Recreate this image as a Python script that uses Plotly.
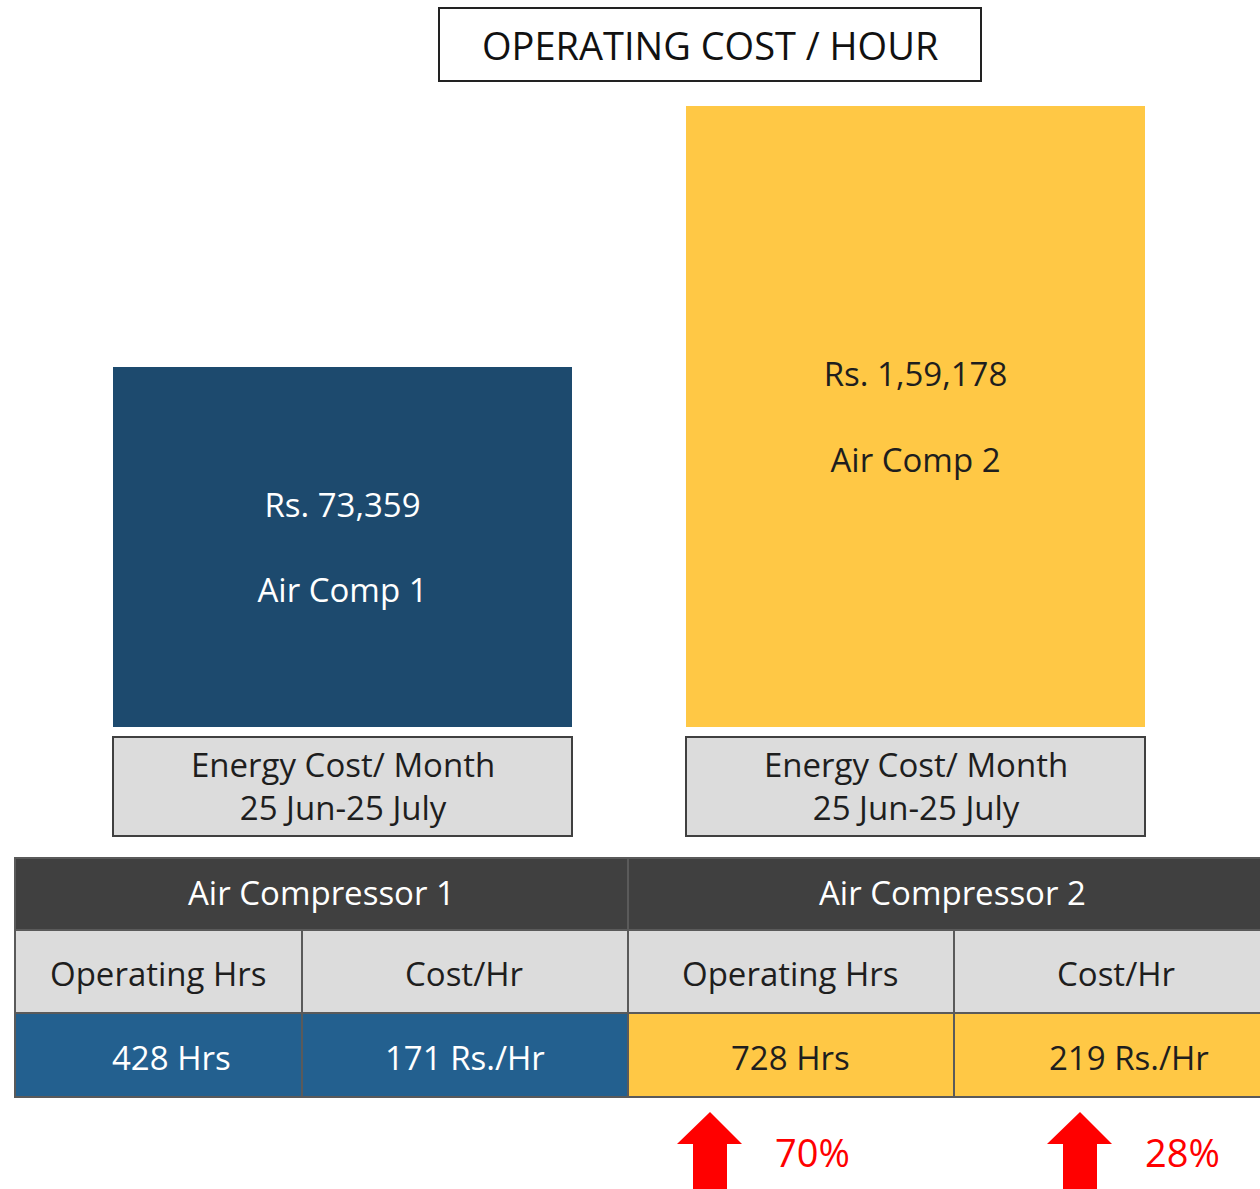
import plotly.graph_objects as go

# ---------------- data ----------------
compressors = ["Air Comp 1", "Air Comp 2"]
table_headers = ["Air Compressor 1", "Air Compressor 2"]
energy_cost = [73359, 159178]
cost_labels = ["Rs. 73,359", "Rs. 1,59,178"]
period_label = "Energy Cost/ Month<br>25 Jun-25 July"
sub_headers = ["Operating Hrs", "Cost/Hr"]
operating_hrs = [428, 728]
cost_per_hr = [171, 219]
increase_pct = [70, 28]
title_text = "OPERATING COST / HOUR"

# ---------------- styling / layout constants ----------------
W, H = 1260, 1189
FONT = "Open Sans"
DARK = "#1e1e1e"
BAR_COLORS = ["#1D4A6E", "#FFC845"]
BAR_TEXT_COLORS = ["white", DARK]
CELL_COLORS = ["#23608F", "#FFC845"]
CELL_TEXT_COLORS = ["white", DARK]
HEADER_BG = "#404040"
GRAY = "#DCDCDC"
GRID = "#5a5a5a"
RED = "#FF0000"
BAR_BASE = -45000  # axis floor used for the bar baseline


def px(x):
    return x / W


def py(y):
    return 1 - y / H


fig = go.Figure()

fig.add_trace(go.Bar(
    x=compressors,
    y=[v - BAR_BASE for v in energy_cost],
    base=BAR_BASE,
    width=0.801,
    marker=dict(color=BAR_COLORS, line=dict(width=0)),
    text=[f"{c}<br><br>{n}" for c, n in zip(cost_labels, compressors)],
    textposition="inside",
    insidetextanchor="middle",
    textangle=0,
    constraintext="none",
    textfont=dict(family=FONT, size=33, color=BAR_TEXT_COLORS),
    hoverinfo="skip",
    showlegend=False,
))

shapes = []
annotations = []

# title box
shapes.append(dict(type="rect", xref="paper", yref="paper",
                   x0=px(439), x1=px(981), y0=py(81), y1=py(8),
                   line=dict(color="#222222", width=2), fillcolor="white"))
annotations.append(dict(x=px(710), y=py(45), xref="paper", yref="paper",
                        text=title_text, showarrow=False,
                        font=dict(family=FONT, size=38, color="#111111"),
                        xanchor="center", yanchor="middle"))

# label boxes under the bars
for x0, x1 in [(113, 572), (686, 1145)]:
    shapes.append(dict(type="rect", xref="paper", yref="paper",
                       x0=px(x0), x1=px(x1), y0=py(836), y1=py(737),
                       line=dict(color="#404040", width=2), fillcolor=GRAY))
    annotations.append(dict(x=px((x0 + x1) / 2), y=py(786), xref="paper", yref="paper",
                            text=period_label, showarrow=False,
                            font=dict(family=FONT, size=33, color=DARK),
                            xanchor="center", yanchor="middle"))

# table
col_edges = [15, 302, 628, 954, 1290]
row_edges = [858, 930, 1013, 1097]
# header row
for i, (x0, x1) in enumerate([(15, 628), (628, 1290)]):
    shapes.append(dict(type="rect", xref="paper", yref="paper",
                       x0=px(x0), x1=px(x1), y0=py(row_edges[1]), y1=py(row_edges[0]),
                       line=dict(color=GRID, width=2), fillcolor=HEADER_BG))
    annotations.append(dict(x=px([321, 952][i]), y=py(892), xref="paper", yref="paper",
                            text=table_headers[i], showarrow=False,
                            font=dict(family=FONT, size=33, color="white"),
                            xanchor="center", yanchor="middle"))
# sub-header row and values row
value_centers = [171, 465, 790, 1129]
sub_centers = [158, 464, 790, 1116]
for c in range(4):
    comp = c // 2
    x0, x1 = col_edges[c], col_edges[c + 1]
    shapes.append(dict(type="rect", xref="paper", yref="paper",
                       x0=px(x0), x1=px(x1), y0=py(row_edges[2]), y1=py(row_edges[1]),
                       line=dict(color=GRID, width=2), fillcolor=GRAY))
    annotations.append(dict(x=px(sub_centers[c]), y=py(973), xref="paper", yref="paper",
                            text=sub_headers[c % 2], showarrow=False,
                            font=dict(family=FONT, size=33, color=DARK),
                            xanchor="center", yanchor="middle"))
    shapes.append(dict(type="rect", xref="paper", yref="paper",
                       x0=px(x0), x1=px(x1), y0=py(row_edges[3]), y1=py(row_edges[2]),
                       line=dict(color=GRID, width=2), fillcolor=CELL_COLORS[comp]))
    val = f"{operating_hrs[comp]} Hrs" if c % 2 == 0 else f"{cost_per_hr[comp]} Rs./Hr"
    annotations.append(dict(x=px(value_centers[c]), y=py(1057), xref="paper", yref="paper",
                            text=val, showarrow=False,
                            font=dict(family=FONT, size=33, color=CELL_TEXT_COLORS[comp]),
                            xanchor="center", yanchor="middle"))

# red arrows with percentage increase
for k, pct in enumerate(increase_pct):
    off = 370 * k
    tipx = 710 + off
    pts = [(tipx, 1112), (742 + off, 1144), (727 + off, 1144), (727 + off, 1195),
           (693 + off, 1195), (693 + off, 1144), (677 + off, 1144)]
    path = "M " + " L ".join(f"{px(x)},{py(y)}" for x, y in pts) + " Z"
    shapes.append(dict(type="path", xref="paper", yref="paper", path=path,
                       fillcolor=RED, line=dict(width=0)))
    annotations.append(dict(x=px(812 + off), y=py(1152), xref="paper", yref="paper",
                            text=f"{pct}%", showarrow=False,
                            font=dict(family=FONT, size=38, color=RED),
                            xanchor="center", yanchor="middle"))

fig.update_layout(
    width=W, height=H,
    margin=dict(l=0, r=0, t=0, b=0),
    paper_bgcolor="white", plot_bgcolor="white",
    shapes=shapes, annotations=annotations,
    xaxis=dict(domain=[0, 1], range=[-0.59773, 1.60122], visible=False, fixedrange=True),
    yaxis=dict(domain=[py(727), py(106)], range=[BAR_BASE, max(energy_cost)],
               visible=False, fixedrange=True),
    bargap=0,
)

fig.write_html(
    "out.html",
    config={"displayModeBar": False},
    post_script="document.body.style.margin='0';document.body.style.overflow='hidden';",
)
